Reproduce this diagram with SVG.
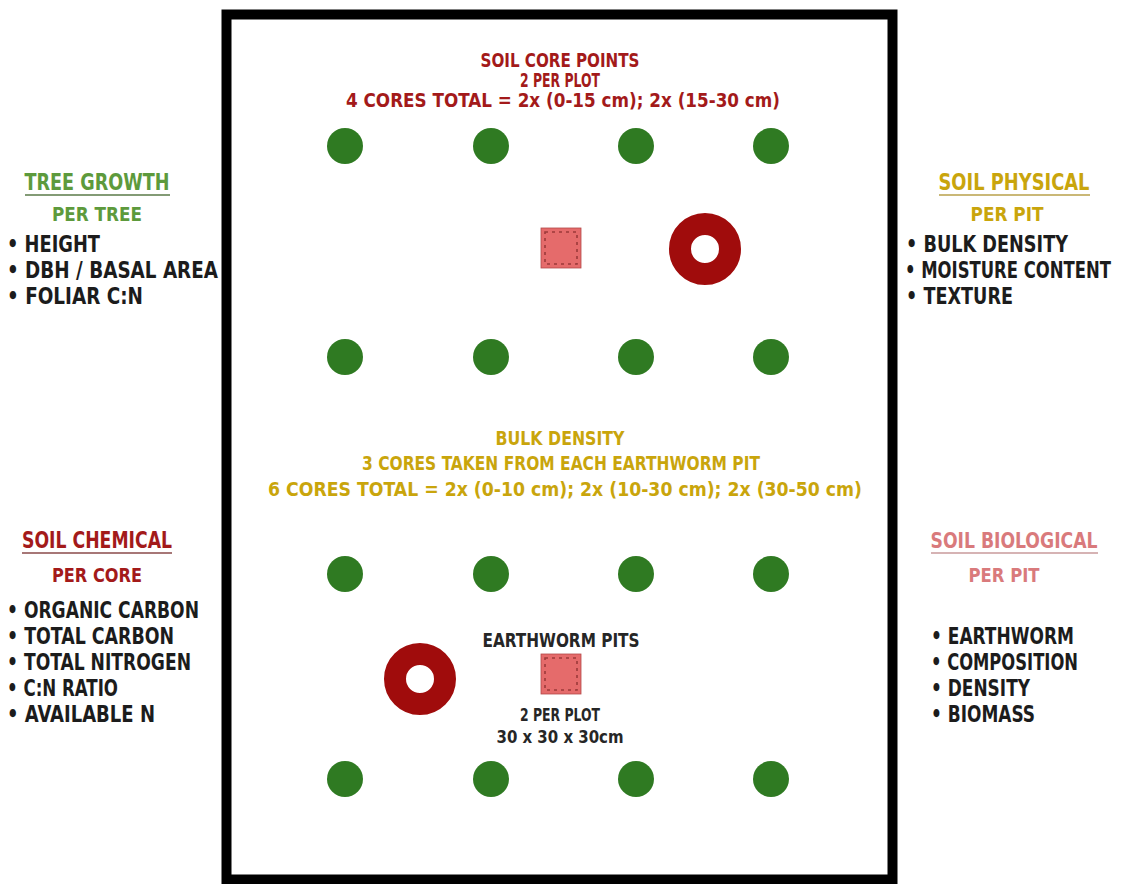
<svg xmlns="http://www.w3.org/2000/svg" width="1123" height="884" viewBox="0 0 1123 884">
<style>
text{font-family:"Liberation Sans Narrow","DejaVu Sans Condensed","Liberation Sans",sans-serif;font-weight:bold;}
.c{text-anchor:middle;}
.blk{fill:#1c1c1c;font-size:23px;}
.red{fill:#a31a1a;}
.gold{fill:#c9a50c;}
.grn{fill:#5d9a3c;}
.pink{fill:#d97a7c;}
.dk{fill:#262626;}
.dot{fill:#2f7a22;}
.ring{fill:none;stroke:#a00c0c;stroke-width:22;}
.pit{fill:#e56b6b;stroke:#b34848;stroke-width:0.8;}
.pitin{fill:none;stroke:#9c3a3a;stroke-width:1.6;stroke-dasharray:3 4;}
</style>
<rect id="plot" x="226.5" y="14.5" width="666" height="865" fill="#fff" stroke="#000" stroke-width="10"/>
<g id="core-points-label">
<text class="c red" x="560" y="67" font-size="19" textLength="159" lengthAdjust="spacingAndGlyphs">SOIL CORE POINTS</text>
<text class="c red" x="560" y="87" font-size="19" textLength="80" lengthAdjust="spacingAndGlyphs">2 PER PLOT</text>
<text class="c red" x="563" y="107" font-size="19" textLength="434" lengthAdjust="spacingAndGlyphs">4 CORES TOTAL = 2x (0-15 cm); 2x (15-30 cm)</text>
</g>
<g id="trees">
<circle class="dot" cx="345" cy="146" r="18"/><circle class="dot" cx="491" cy="146" r="18"/><circle class="dot" cx="636" cy="146" r="18"/><circle class="dot" cx="771" cy="146" r="18"/>
<circle class="dot" cx="345" cy="357" r="18"/><circle class="dot" cx="491" cy="357" r="18"/><circle class="dot" cx="636" cy="357" r="18"/><circle class="dot" cx="771" cy="357" r="18"/>
<circle class="dot" cx="345" cy="574" r="18"/><circle class="dot" cx="491" cy="574" r="18"/><circle class="dot" cx="636" cy="574" r="18"/><circle class="dot" cx="771" cy="574" r="18"/>
<circle class="dot" cx="345" cy="779" r="18"/><circle class="dot" cx="491" cy="779" r="18"/><circle class="dot" cx="636" cy="779" r="18"/><circle class="dot" cx="771" cy="779" r="18"/>
</g>
<g id="pit-1">
<rect class="pit" x="541" y="228" width="40" height="40"/>
<rect class="pitin" x="545" y="232" width="32" height="32"/>
</g>
<g id="core-ring-1"><circle class="ring" cx="705" cy="249" r="25"/></g>
<g id="bulk-density-label">
<text class="c gold" x="560" y="445" font-size="19" textLength="129" lengthAdjust="spacingAndGlyphs">BULK DENSITY</text>
<text class="c gold" x="561" y="470" font-size="19" textLength="398" lengthAdjust="spacingAndGlyphs">3 CORES TAKEN FROM EACH EARTHWORM PIT</text>
<text class="c gold" x="565" y="496" font-size="19" textLength="594" lengthAdjust="spacingAndGlyphs">6 CORES TOTAL = 2x (0-10 cm); 2x (10-30 cm); 2x (30-50 cm)</text>
</g>
<g id="core-ring-2"><circle class="ring" cx="420" cy="679" r="25"/></g>
<g id="pit-2">
<rect class="pit" x="541" y="654" width="40" height="40"/>
<rect class="pitin" x="545" y="658" width="32" height="32"/>
</g>
<g id="earthworm-label">
<text class="c dk" x="561" y="647" font-size="20" textLength="157" lengthAdjust="spacingAndGlyphs">EARTHWORM PITS</text>
<text class="c dk" x="560" y="721" font-size="18" textLength="80" lengthAdjust="spacingAndGlyphs">2 PER PLOT</text>
<text class="c dk" x="560" y="743" font-size="18" textLength="127" lengthAdjust="spacingAndGlyphs">30 x 30 x 30cm</text>
</g>
<g id="tree-growth">
<text class="c grn" x="97" y="190" font-size="23" textLength="145" lengthAdjust="spacingAndGlyphs">TREE GROWTH</text>
<line x1="25" y1="195" x2="170" y2="195" stroke="#5a7a48" stroke-width="1.5"/>
<text class="c grn" x="97" y="221" font-size="20" textLength="90" lengthAdjust="spacingAndGlyphs">PER TREE</text>
<text class="blk" x="7" y="252" textLength="93" lengthAdjust="spacingAndGlyphs">• HEIGHT</text>
<text class="blk" x="7" y="278" textLength="211" lengthAdjust="spacingAndGlyphs">• DBH / BASAL AREA</text>
<text class="blk" x="7" y="304" textLength="136" lengthAdjust="spacingAndGlyphs">• FOLIAR C:N</text>
</g>
<g id="soil-physical">
<text class="c gold" x="1014" y="190" font-size="23" textLength="151" lengthAdjust="spacingAndGlyphs">SOIL PHYSICAL</text>
<line x1="939" y1="195" x2="1090" y2="195" stroke="#b9a04a" stroke-width="1.5"/>
<text class="c gold" x="1007" y="221" font-size="20" textLength="73" lengthAdjust="spacingAndGlyphs">PER PIT</text>
<text class="blk" x="906" y="252" textLength="162" lengthAdjust="spacingAndGlyphs">• BULK DENSITY</text>
<text class="blk" x="905" y="278" font-size="17" textLength="206" lengthAdjust="spacingAndGlyphs">• MOISTURE CONTENT</text>
<text class="blk" x="906" y="304" textLength="107" lengthAdjust="spacingAndGlyphs">• TEXTURE</text>
</g>
<g id="soil-chemical">
<text class="c red" x="97" y="548" font-size="23" textLength="150" lengthAdjust="spacingAndGlyphs">SOIL CHEMICAL</text>
<line x1="22" y1="553" x2="172" y2="553" stroke="#8a4a4a" stroke-width="1.5"/>
<text class="c red" x="97" y="582" font-size="20" textLength="90" lengthAdjust="spacingAndGlyphs">PER CORE</text>
<text class="blk" x="7" y="618" textLength="192" lengthAdjust="spacingAndGlyphs">• ORGANIC CARBON</text>
<text class="blk" x="7" y="644" textLength="167" lengthAdjust="spacingAndGlyphs">• TOTAL CARBON</text>
<text class="blk" x="7" y="670" textLength="184" lengthAdjust="spacingAndGlyphs">• TOTAL NITROGEN</text>
<text class="blk" x="7" y="696" textLength="111" lengthAdjust="spacingAndGlyphs">• C:N RATIO</text>
<text class="blk" x="7" y="722" textLength="148" lengthAdjust="spacingAndGlyphs">• AVAILABLE N</text>
</g>
<g id="soil-biological">
<text class="c pink" x="1014" y="548" font-size="21" textLength="167" lengthAdjust="spacingAndGlyphs">SOIL BIOLOGICAL</text>
<line x1="931" y1="553" x2="1098" y2="553" stroke="#c99a9b" stroke-width="1.5"/>
<text class="c pink" x="1004" y="582" font-size="20" textLength="71" lengthAdjust="spacingAndGlyphs">PER PIT</text>
<text class="blk" x="931" y="644" textLength="143" lengthAdjust="spacingAndGlyphs">• EARTHWORM</text>
<text class="blk" x="931" y="670" textLength="147" lengthAdjust="spacingAndGlyphs">• COMPOSITION</text>
<text class="blk" x="931" y="696" textLength="99" lengthAdjust="spacingAndGlyphs">• DENSITY</text>
<text class="blk" x="931" y="722" textLength="104" lengthAdjust="spacingAndGlyphs">• BIOMASS</text>
</g>
<g id="connectors"/>
</svg>
